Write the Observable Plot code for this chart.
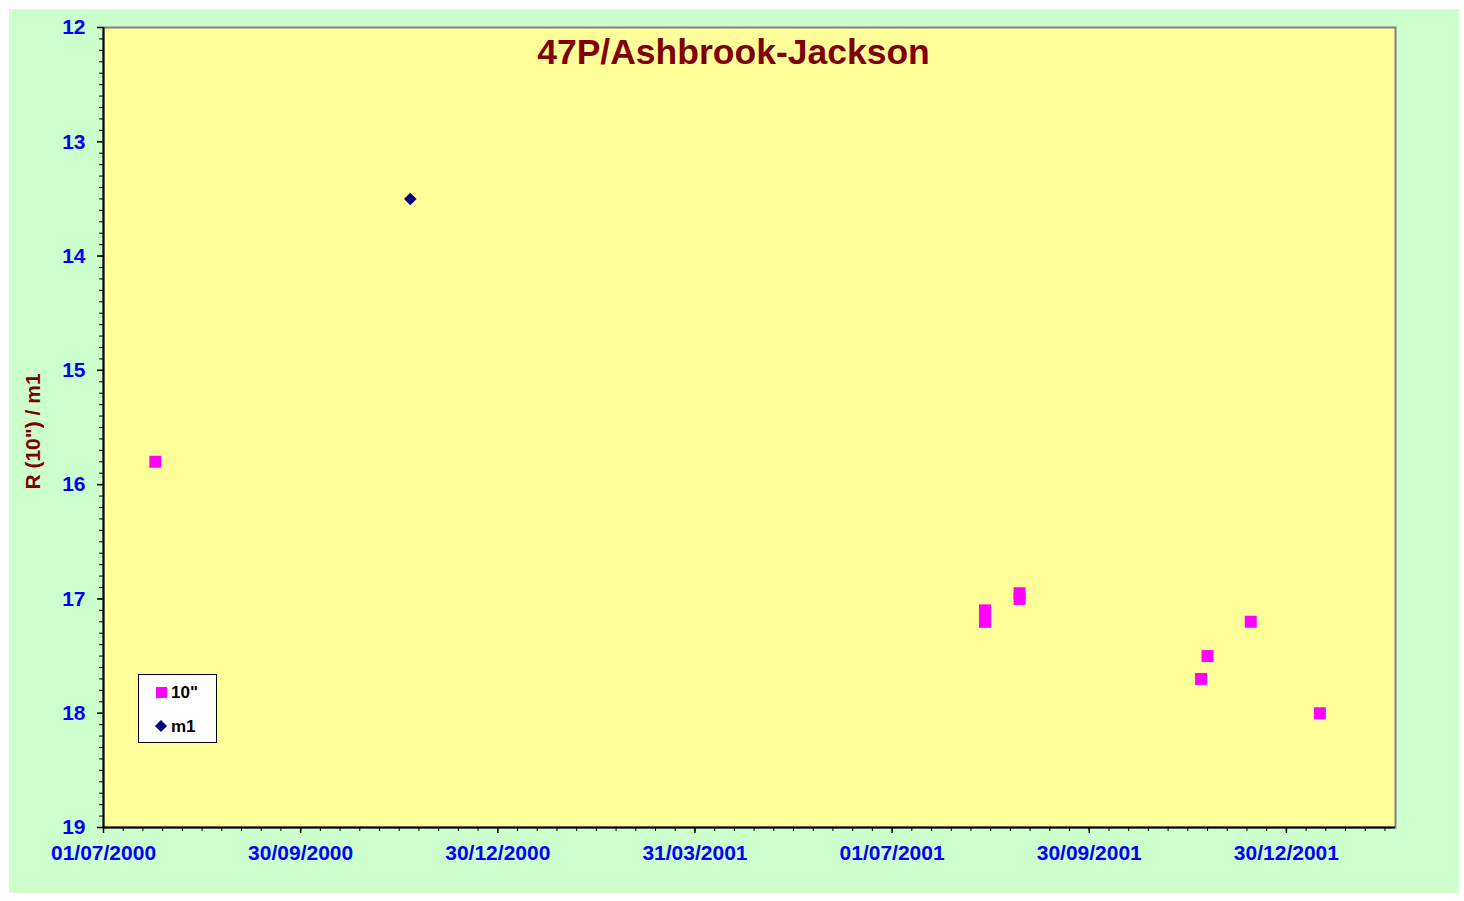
<!DOCTYPE html>
<html>
<head>
<meta charset="utf-8">
<script src="https://cdn.jsdelivr.net/npm/d3@7"></script>
<script src="https://cdn.jsdelivr.net/npm/@observablehq/plot@0.6"></script>
<style>
  body { margin: 0; background: #ffffff; }
  #wrap { position: relative; width: 1464px; height: 901px; overflow: hidden; }
  #bg { position: absolute; left: 9px; top: 9px; width: 1450px; height: 884px; background: #CCFFCC; }
  #chart { position: absolute; left: 0; top: 0; }
  #legend { position: absolute; left: 138px; top: 674px; width: 77px; height: 67px;
            background: #ffffff; border: 1px solid #000000; }
</style>
</head>
<body>
<div id="wrap">
  <div id="bg"></div>
  <div id="chart"></div>
  <div id="legend"></div>
</div>
<script>
// ---- data ----
const title = "47P/Ashbrook-Jackson";
const yLabel = "R (10\") / m1";
const seriesNames = ["10\"", "m1"];

const dates10 = ["2000-07-25", "2001-08-13", "2001-08-13", "2001-08-29", "2001-08-29",
                 "2001-11-21", "2001-11-24", "2001-12-14", "2002-01-15"];
const mags10  = [15.8, 17.1, 17.2, 16.95, 17.0, 17.7, 17.5, 17.2, 18.0];

const datesM1 = ["2000-11-20"];
const magsM1  = [13.5];

const xStart = "2000-07-01";
const xEnd   = "2002-02-19";
const xTickLabels = ["01/07/2000", "30/09/2000", "30/12/2000", "31/03/2001",
                     "01/07/2001", "30/09/2001", "30/12/2001"];
const yTicks = [12, 13, 14, 15, 16, 17, 18, 19];

// ---- derived ----
const parse = d3.utcParse("%Y-%m-%d");
const DAY = 864e5;
const start = parse(xStart), end = parse(xEnd);
const data10 = dates10.map((d, i) => ({date: parse(d), mag: mags10[i]}));
const dataM1 = datesM1.map((d, i) => ({date: parse(d), mag: magsM1[i]}));
const majorX = xTickLabels.map((_, i) => new Date(+start + i * 91.25 * DAY));
const minorX = d3.range(0, 66).map(i => new Date(+start + i * 9.125 * DAY)).filter(d => d <= end);
const minorY = d3.range(120, 191).map(v => v / 10);

const diamond = {
  draw(context, size) {
    const h = Math.sqrt(size / Math.PI);
    context.moveTo(0, -h);
    context.lineTo(h, 0);
    context.lineTo(0, h);
    context.lineTo(-h, 0);
    context.closePath();
  }
};

const font = "'Liberation Sans', Arial, sans-serif";

const chart = Plot.plot({
  width: 1464,
  height: 901,
  marginLeft: 103,
  marginRight: 69,
  marginTop: 27,
  marginBottom: 74,
  style: {background: "transparent", fontFamily: font, overflow: "visible"},
  x: {type: "utc", domain: [start, end]},
  y: {domain: [12, 19], reverse: true},
  marks: [
    Plot.frame({fill: "#FFFF99", stroke: "none"}),
    Plot.frame({stroke: "#808080", strokeWidth: 2, fill: "none"}),
    // minor ticks
    Plot.axisY({ticks: minorY, tickSize: 4, fill: "none", stroke: "black", label: null}),
    Plot.axisX({ticks: minorX, tickSize: 4, fill: "none", stroke: "black", label: null}),
    // major ticks
    Plot.axisY({ticks: yTicks, tickSize: 6, fill: "none", stroke: "black", strokeWidth: 1.5, label: null}),
    Plot.axisX({ticks: majorX, tickSize: 6, fill: "none", stroke: "black", strokeWidth: 1.5, label: null}),
    // tick labels
    Plot.axisY({ticks: yTicks, tickSize: 6, stroke: "none", tickPadding: 12, fill: "#0000FF",
                fontSize: 21, fontWeight: "bold", tickFormat: d => String(d), label: null}),
    Plot.axisX({ticks: majorX, tickSize: 6, stroke: "none", tickPadding: 12, fill: "#0000FF",
                fontSize: 21, fontWeight: "bold",
                tickFormat: (d, i) => xTickLabels[i], label: null}),
    // axis lines
    Plot.ruleX([start], {stroke: "black", strokeWidth: 2}),
    Plot.ruleY([19], {stroke: "black", strokeWidth: 2}),
    // data
    Plot.dot(data10, {x: "date", y: "mag", symbol: "square", r: 6.77, fill: "#FF00FF", stroke: "none"}),
    Plot.dot(dataM1, {x: "date", y: "mag", symbol: diamond, r: 6.3, fill: "#000080", stroke: "none"}),
    // title & y label
    Plot.text([title], {frameAnchor: "top", lineAnchor: "middle", textAnchor: "middle",
                        dx: -16, dy: 25, fontSize: 35.5, fontWeight: "bold",
                        fill: "#800000", fontFamily: font}),
    Plot.text([yLabel], {frameAnchor: "left", textAnchor: "middle", lineAnchor: "middle",
                         dx: -70, dy: 4, rotate: -90, fontSize: 21,
                         fontWeight: "bold", fill: "#800000", fontFamily: font})
  ]
});
document.getElementById("chart").appendChild(chart);

// legend
const leg = d3.select("#legend").append("svg").attr("width", 77).attr("height", 67)
  .style("font-family", font);
const legItems = [
  {name: seriesNames[0], color: "#FF00FF", shape: "square", cy: 17},
  {name: seriesNames[1], color: "#000080", shape: "diamond", cy: 51}
];
legItems.forEach(it => {
  if (it.shape === "square") {
    leg.append("rect").attr("x", 17).attr("y", it.cy - 5).attr("width", 11).attr("height", 11).attr("fill", it.color);
  } else {
    leg.append("path").attr("d", `M22,${it.cy - 6}L28,${it.cy}L22,${it.cy + 6}L16,${it.cy}Z`).attr("fill", it.color);
  }
  leg.append("text").attr("x", 32).attr("y", it.cy + 6).attr("font-size", 17).attr("font-weight", "bold")
    .attr("fill", "#000").text(it.name);
});
</script>
</body>
</html>
